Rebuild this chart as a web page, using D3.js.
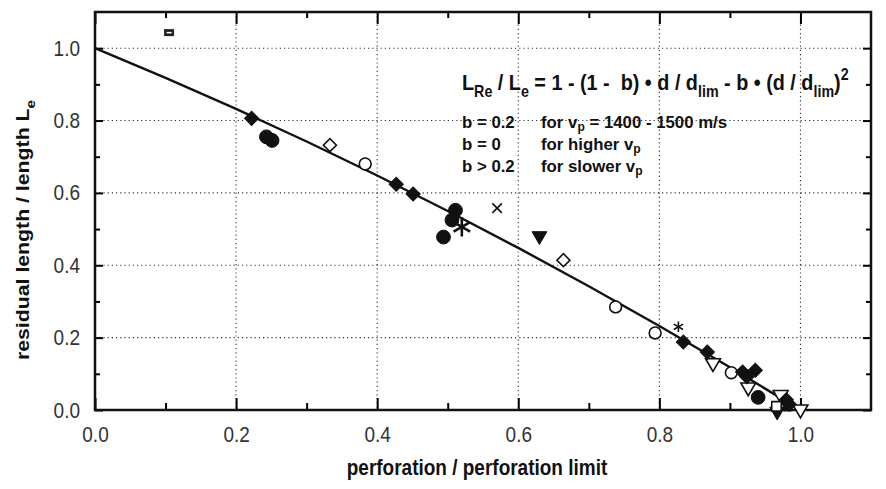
<!DOCTYPE html>
<html>
<head>
<meta charset="utf-8">
<script src="https://cdn.jsdelivr.net/npm/d3@7"></script>
<style>
  body { margin: 0; background: #fff; }
  text { font-family: "Liberation Sans", Arial, Helvetica, sans-serif; white-space: pre; }
</style>
</head>
<body>
<svg id="chart" width="886" height="489"></svg>
<script>
// axis ticks
const majorTicks = [0, 0.2, 0.4, 0.6, 0.8, 1.0];
const minorTicks = [0.1, 0.3, 0.5, 0.7, 0.9];

// fitted curve (b = 0.2)
const fitX = [0, 0.1, 0.2, 0.3, 0.4, 0.5, 0.6, 0.7, 0.8, 0.9, 1.0];
const fitY = [1.0, 0.918, 0.832, 0.742, 0.648, 0.55, 0.448, 0.342, 0.232, 0.118, 0.0];

// measured points, one list per marker
const filledDiamonds = [[0.222, 0.806], [0.427, 0.624], [0.451, 0.597], [0.834, 0.188],
  [0.868, 0.160], [0.918, 0.105], [0.936, 0.110], [0.924, 0.092], [0.980, 0.028], [0.984, 0.016]];
const hollowDiamonds = [[0.333, 0.732], [0.664, 0.414]];
const filledCircles = [[0.243, 0.755], [0.251, 0.745], [0.494, 0.478], [0.511, 0.552],
  [0.506, 0.525], [0.940, 0.035]];
const hollowCircles = [[0.383, 0.680], [0.738, 0.285], [0.794, 0.213], [0.902, 0.103]];
const filledTriangles = [[0.630, 0.481], [0.967, -0.004]];
const hollowTriangles = [[0.876, 0.130], [0.926, 0.063], [0.972, 0.042], [1.0, 0.002]];
const hollowSquares = [[0.966, 0.010]];
const filledSquares = [[0.982, 0.010]];
const bigStars = [[0.520, 0.506]];
const smallStars = [[0.827, 0.230]];
const crosses = [[0.570, 0.558]];
const bars = [[0.105, 1.043]];

const svg = d3.select('#chart');
const pLeft = 95, pRight = 871, pTop = 12, pBottom = 410;

const x = d3.scaleLinear().domain([0, 1.1]).range([pLeft, pRight]);
const y = d3.scaleLinear().domain([0, 1.1]).range([pBottom, pTop]);

// dotted grid
const grid = svg.append('g')
    .attr('stroke', '#333').attr('stroke-width', 1.1).attr('stroke-dasharray', '1.2,3');
grid.selectAll('.gx').data(majorTicks.slice(1)).join('line')
    .attr('x1', d => x(d)).attr('x2', d => x(d)).attr('y1', pTop).attr('y2', pBottom);
grid.selectAll('.gy').data(majorTicks.slice(1)).join('line')
    .attr('x1', pLeft).attr('x2', pRight).attr('y1', d => y(d)).attr('y2', d => y(d));

// stretch tick labels a bit taller, like the scan
function tallLabels(g) {
  g.selectAll('text').each(function() {
    const t = d3.select(this);
    const tx = +t.attr('x') || 0, ty = +t.attr('y') || 0;
    t.attr('x', 0).attr('y', 0)
      .attr('transform', `translate(${tx},${ty}) scale(1,1.15)`);
  });
}

function styleAxis(g, sw) {
  g.select('.domain').remove();
  g.selectAll('line').attr('stroke', '#000').attr('stroke-width', sw);
  g.selectAll('text').attr('fill', '#333').attr('font-size', 19);
}

const fmt = d3.format('.1f');
// bottom
svg.append('g').attr('transform', `translate(0,${pBottom})`)
    .call(d3.axisBottom(x).tickValues(majorTicks).tickSize(-12).tickPadding(16).tickFormat(fmt))
    .call(g => styleAxis(g, 2)).call(tallLabels);
svg.append('g').attr('transform', `translate(0,${pBottom})`)
    .call(d3.axisBottom(x).tickValues(minorTicks).tickSize(-7).tickFormat(''))
    .call(g => styleAxis(g, 2));
// left
svg.append('g').attr('transform', `translate(${pLeft},0)`)
    .call(d3.axisLeft(y).tickValues(majorTicks).tickSize(-8).tickPadding(15).tickFormat(fmt))
    .call(g => styleAxis(g, 2)).call(tallLabels);
svg.append('g').attr('transform', `translate(${pLeft},0)`)
    .call(d3.axisLeft(y).tickValues(minorTicks).tickSize(-5).tickFormat(''))
    .call(g => styleAxis(g, 2));
// top
svg.append('g').attr('transform', `translate(0,${pTop})`)
    .call(d3.axisTop(x).tickValues(majorTicks).tickSize(-12).tickFormat(''))
    .call(g => styleAxis(g, 2));
svg.append('g').attr('transform', `translate(0,${pTop})`)
    .call(d3.axisTop(x).tickValues(minorTicks).tickSize(-6).tickFormat(''))
    .call(g => styleAxis(g, 2));
// right
svg.append('g').attr('transform', `translate(${pRight},0)`)
    .call(d3.axisRight(y).tickValues(majorTicks).tickSize(-8).tickFormat(''))
    .call(g => styleAxis(g, 2));
svg.append('g').attr('transform', `translate(${pRight},0)`)
    .call(d3.axisRight(y).tickValues(minorTicks).tickSize(-5).tickFormat(''))
    .call(g => styleAxis(g, 2));

// frame
svg.append('rect')
    .attr('x', pLeft).attr('y', pTop).attr('width', pRight - pLeft).attr('height', pBottom - pTop)
    .attr('fill', 'none').attr('stroke', '#111').attr('stroke-width', 2.5);

// fitted curve
const fitLine = d3.line().x(d => x(d[0])).y(d => y(d[1])).curve(d3.curveMonotoneX);
svg.append('path')
    .datum(fitX.map((d, i) => [d, fitY[i]]))
    .attr('d', fitLine)
    .attr('fill', 'none').attr('stroke', '#111').attr('stroke-width', 2.4);

// markers
const marks = svg.append('g');
function symbols(data, type, size, rot, filled, sw) {
  marks.selectAll(null).data(data).join('path')
      .attr('d', d3.symbol(type, size))
      .attr('transform', d => `translate(${x(d[0])},${y(d[1])}) rotate(${rot})`)
      .attr('fill', filled ? '#111' : '#fff')
      .attr('stroke', '#111')
      .attr('stroke-width', sw);
}
symbols(hollowTriangles, d3.symbolTriangle, 95, 180, false, 1.6);
symbols(filledTriangles, d3.symbolTriangle, 95, 180, true, 1);
symbols(hollowCircles, d3.symbolCircle, 110, 0, false, 1.6);
symbols(filledCircles, d3.symbolCircle, 150, 0, true, 1);
symbols(filledDiamonds, d3.symbolSquare, 100, 45, true, 1);
symbols(hollowDiamonds, d3.symbolSquare, 85, 45, false, 1.6);
symbols(hollowSquares, d3.symbolSquare, 90, 0, false, 1.6);
symbols(filledSquares, d3.symbolSquare, 80, 0, true, 1);
symbols(bigStars, d3.symbolAsterisk, 260, 0, false, 2.6);
symbols(smallStars, d3.symbolAsterisk, 80, 0, false, 1.6);
symbols(crosses, d3.symbolTimes, 60, 0, false, 1.6);

// small dark bar with a white dash
marks.selectAll(null).data(bars).join('rect')
    .attr('x', d => x(d[0]) - 5).attr('y', d => y(d[1]) - 3.5)
    .attr('width', 10).attr('height', 7).attr('fill', '#222');
marks.selectAll(null).data(bars).join('line')
    .attr('x1', d => x(d[0]) - 2.5).attr('x2', d => x(d[0]) + 2.5)
    .attr('y1', d => y(d[1])).attr('y2', d => y(d[1]))
    .attr('stroke', '#fff').attr('stroke-width', 1.5);

// rich text with sub / superscripts
function rich(g, parts, size, subDrop) {
  const drop = subDrop || 0.32;
  const t = g.append('text').attr('font-weight', 'bold').attr('font-size', size).attr('fill', '#111');
  let shift = 0;
  parts.forEach(p => {
    const s = typeof p === 'string' ? {t: p} : p;
    const want = s.sub ? size * drop : s.sup ? -size * 0.42 : 0;
    t.append('tspan')
        .attr('dy', want - shift)
        .attr('font-size', s.sub || s.sup ? size * 0.72 : size)
        .text(s.t);
    shift = want;
  });
  return t;
}

// axis titles
const xt = svg.append('g').attr('transform', 'translate(477,475) scale(1,1.12)');
rich(xt, ['perforation / perforation limit'], 19).attr('text-anchor', 'middle');
const yt = svg.append('g').attr('transform', 'translate(29,230) rotate(-90) scale(1.15,1)');
rich(yt, ['residual length / length L', {t: 'e', sub: true}], 18.5).attr('text-anchor', 'middle');

// formula and notes
const fg = svg.append('g').attr('transform', 'translate(462,90) scale(1,1.15)');
rich(fg, ['L', {t: 'Re', sub: true}, ' / L', {t: 'e', sub: true}, ' = 1 - (1 -  b) \u2022 d / d',
  {t: 'lim', sub: true}, ' - b \u2022 (d / d', {t: 'lim', sub: true}, ')', {t: '2', sup: true}], 19.8);

const notes = [
  {b: 'b = 0.2', f: ['for v', {t: 'p', sub: true}, ' = 1400 - 1500 m/s']},
  {b: 'b = 0', f: ['for higher v', {t: 'p', sub: true}]},
  {b: 'b > 0.2', f: ['for slower v', {t: 'p', sub: true}]}
];
notes.forEach((n, i) => {
  const g = svg.append('g').attr('transform', `translate(462,${128 + i * 22})`);
  rich(g, [n.b], 16.8);
  const g2 = svg.append('g').attr('transform', `translate(541,${128 + i * 22})`);
  rich(g2, n.f, 16.8, 0.2);
});
</script>
</body>
</html>
